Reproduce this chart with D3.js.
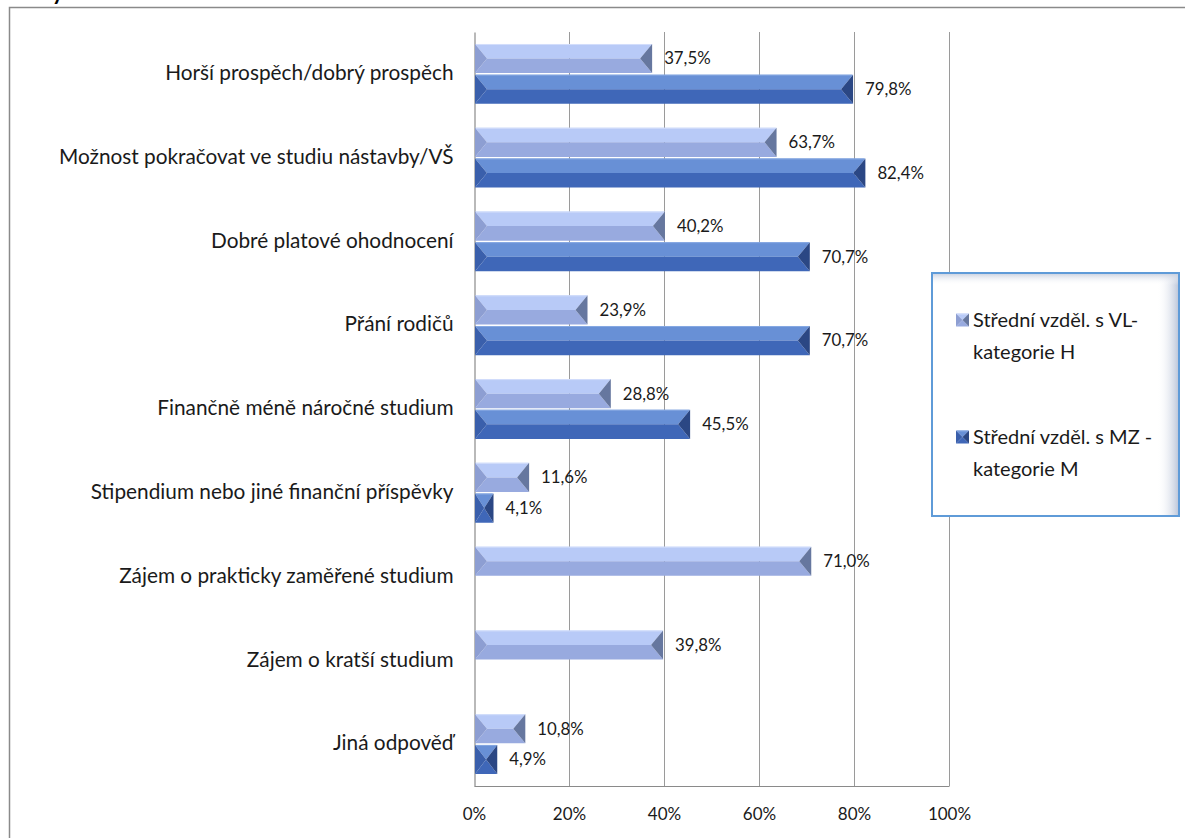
<!DOCTYPE html>
<html><head><meta charset="utf-8">
<script src="https://cdn.jsdelivr.net/npm/d3@7"></script>
<style>html,body{margin:0;padding:0;background:#fff;}svg{display:block;}</style>
</head><body>
<svg id="chart" width="1185" height="838"></svg>
<script>
const categories = [
  "Horší prospěch/dobrý prospěch",
  "Možnost pokračovat ve studiu nástavby/VŠ",
  "Dobré platové ohodnocení",
  "Přání rodičů",
  "Finančně méně náročné studium",
  "Stipendium nebo jiné finanční příspěvky",
  "Zájem o prakticky zaměřené studium",
  "Zájem o kratší studium",
  "Jiná odpověď"
];
const seriesNames = ["Střední vzděl. s VL-\nkategorie H", "Střední vzděl. s MZ -\nkategorie M"];
const valuesH = [37.5, 63.7, 40.2, 23.9, 28.8, 11.6, 71.0, 39.8, 10.8];
const valuesM = [79.8, 82.4, 70.7, 70.7, 45.5, 4.1, null, null, 4.9];
const tickValues = [0, 20, 40, 60, 80, 100];

const palettes = [
  {top:"#b8caf7", bottom:"#98aadf", left:"#8d9ed2", right:"#66779f", edge:"#d3defb"},
  {top:"#6890d6", bottom:"#3f67b8", left:"#3a5fab", right:"#2b4784", edge:"#86a8e2"}
];
const FONT = "Lato, 'Open Sans', sans-serif";

const svg = d3.select("#chart");

// outer chart border
svg.append("rect").attr("x", 9.5).attr("y", 7.5).attr("width", 1200).attr("height", 900)
  .attr("fill", "#fff").attr("stroke", "#8a8a8a").attr("stroke-width", 1.5);
// clipped fragment of title above the chart (cut off in the reference too)
svg.append("text").attr("x", 52).attr("y", 0).text("y")
  .attr("font-family", FONT).attr("font-weight", "bold").attr("font-size", 22).attr("fill", "#000");

const x = d3.scaleLinear().domain([0, 100]).range([474, 949]);
const y = d3.scaleBand().domain(categories).range([32, 786]).paddingInner(0.286).paddingOuter(0.143);
const ySub = d3.scaleBand().domain([0, 1]).range([0, y.bandwidth()]).paddingInner(0.05);

// grid lines
svg.append("g").selectAll("line").data(tickValues.filter(t => t > 0)).join("line")
  .attr("x1", d => x(d) + 0.5).attr("x2", d => x(d) + 0.5)
  .attr("y1", 32).attr("y2", 786)
  .attr("stroke", "#9a9a9a").attr("stroke-width", 1);

// axes
const xAxis = d3.axisBottom(x).tickValues(tickValues).tickSize(0).tickFormat(d => d + "%");
const gx = svg.append("g").attr("transform", "translate(0,786)").call(xAxis);
gx.select(".domain").attr("stroke", "#8a8a8a").attr("stroke-width", 1.2);
gx.selectAll("text").attr("font-family", FONT).attr("font-size", 17).attr("fill", "#1a1a1a").attr("dy", "1.8em");

const yAxis = d3.axisLeft(y).tickSize(0).tickPadding(21);
const gy = svg.append("g").attr("transform", "translate(474.5,0)").call(yAxis);
gy.select(".domain").attr("stroke", "#8a8a8a").attr("stroke-width", 1.2);
gy.selectAll("text").attr("font-family", FONT).attr("font-size", 20.8).attr("fill", "#1a1a1a").attr("dy", "0.3em");

function bevelBar(g, x0, x1, y0, y1, pal, dmax) {
  const d = Math.min(dmax, (x1 - x0) / 2), ym = (y0 + y1) / 2;
  g.append("path").attr("d", `M${x0},${y0}L${x1},${y0}L${x1-d},${ym}L${x0+d},${ym}Z`).attr("fill", pal.top);
  g.append("path").attr("d", `M${x0+d},${ym}L${x1-d},${ym}L${x1},${y1}L${x0},${y1}Z`).attr("fill", pal.bottom);
  g.append("path").attr("d", `M${x0},${y0}L${x0+d},${ym}L${x0},${y1}Z`).attr("fill", pal.left);
  g.append("path").attr("d", `M${x1},${y0}L${x1-d},${ym}L${x1},${y1}Z`).attr("fill", pal.right);
  g.append("line").attr("x1", x0 + 1).attr("x2", x1 - 1).attr("y1", y0 + 0.5).attr("y2", y0 + 0.5)
    .attr("stroke", pal.edge).attr("stroke-width", 1);
}

const fmt = v => v.toFixed(1).replace(".", ",") + "%";
const bars = svg.append("g");
[valuesH, valuesM].forEach((vals, s) => {
  vals.forEach((v, i) => {
    if (v == null) return;
    const y0 = y(categories[i]) + ySub(s);
    const y1 = y0 + ySub.bandwidth();
    const g = bars.append("g");
    bevelBar(g, x(0) + 1, x(v), y0, y1, palettes[s], 12);
    bars.append("text").attr("x", x(v) + 12).attr("y", (y0 + y1) / 2).attr("dy", "0.35em")
      .attr("font-family", FONT).attr("font-size", 16.8).attr("fill", "#1a1a1a").text(fmt(v));
  });
});

// legend
const defs = svg.append("defs");
const gr = defs.append("linearGradient").attr("id", "shR").attr("x1", 0).attr("x2", 1).attr("y1", 0).attr("y2", 0);
gr.append("stop").attr("offset", 0).attr("stop-color", "#ffffff").attr("stop-opacity", 0);
gr.append("stop").attr("offset", 1).attr("stop-color", "#b9c3d8").attr("stop-opacity", 1);
const gt = defs.append("linearGradient").attr("id", "shT").attr("x1", 0).attr("x2", 0).attr("y1", 0).attr("y2", 1);
gt.append("stop").attr("offset", 0).attr("stop-color", "#c6cede").attr("stop-opacity", 1);
gt.append("stop").attr("offset", 1).attr("stop-color", "#ffffff").attr("stop-opacity", 0);

const L = {x: 932, y: 273, w: 247, h: 243};
const lg = svg.append("g");
lg.append("rect").attr("x", L.x).attr("y", L.y).attr("width", L.w).attr("height", L.h).attr("fill", "#fff");
lg.append("rect").attr("x", L.x + L.w - 22).attr("y", L.y).attr("width", 22).attr("height", L.h).attr("fill", "url(#shR)");
lg.append("rect").attr("x", L.x).attr("y", L.y).attr("width", L.w).attr("height", 12).attr("fill", "url(#shT)");
lg.append("rect").attr("x", L.x).attr("y", L.y).attr("width", L.w).attr("height", L.h)
  .attr("fill", "none").attr("stroke", "#5f9bd8").attr("stroke-width", 2);

const legendY = [320, 437];
seriesNames.forEach((name, s) => {
  const cy = legendY[s];
  bevelBar(lg, 956, 969, cy - 6.5, cy + 6.5, palettes[s], 6.5);
  const t = lg.append("text").attr("font-family", FONT).attr("font-size", 20).attr("fill", "#1a1a1a");
  name.split("\n").forEach((line, k) => {
    t.append("tspan").attr("x", 973).attr("y", cy + k * 32).attr("dy", "0.35em").text(line);
  });
});
</script>
</body></html>
